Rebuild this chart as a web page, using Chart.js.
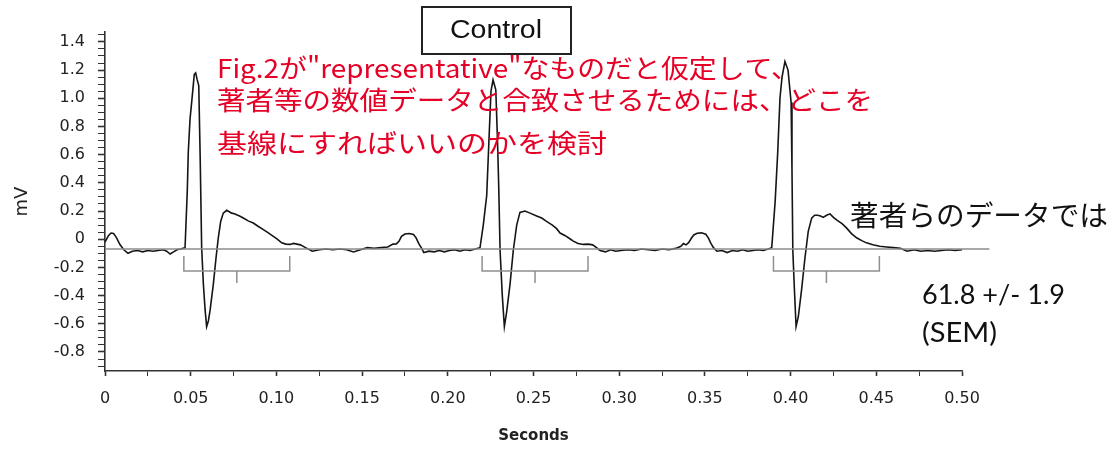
<!DOCTYPE html>
<html lang="ja">
<head>
<meta charset="UTF-8">
<title>Control</title>
<script src="https://cdn.jsdelivr.net/npm/chart.js"></script>
<style>
  html, body { margin: 0; padding: 0; background: #fff; }
  #wrap { width: 1116px; height: 449px; }
</style>
</head>
<body>
<div id="wrap"><canvas id="ecgChart" width="1116" height="449"></canvas></div>
<script>
// ECG trace (time in s, amplitude in mV), split by cycle
const seg1Time = [0, 0.002, 0.0035, 0.005, 0.0065, 0.0088, 0.011, 0.0134, 0.016, 0.019,
  0.022, 0.025, 0.028, 0.031, 0.034, 0.036, 0.038, 0.040, 0.042, 0.044,
  0.0455, 0.0467, 0.048, 0.0486, 0.0496, 0.0511, 0.0521, 0.0529, 0.0538, 0.0547,
  0.0555, 0.0564, 0.0574, 0.0584, 0.0593, 0.0603, 0.0613, 0.0632, 0.0648, 0.0661,
  0.0675, 0.069, 0.071, 0.0725, 0.0739, 0.0755, 0.0768, 0.0785, 0.0807, 0.0835,
  0.0865, 0.0895, 0.0924, 0.0953, 0.0982, 0.1005, 0.1031, 0.1055, 0.108, 0.110];
const seg1Mv = [-0.02, 0.025, 0.044, 0.04, 0.015, -0.04, -0.075, -0.10, -0.085, -0.08,
  -0.09, -0.08, -0.085, -0.08, -0.075, -0.085, -0.105, -0.09, -0.075, -0.07,
  -0.065, -0.06, 0.34, 0.62, 0.85, 1.04, 1.17, 1.18, 1.13, 1.09,
  0.6, -0.06, -0.32, -0.5, -0.62, -0.58, -0.505, -0.32, -0.13, 0.01,
  0.126, 0.185, 0.205, 0.195, 0.185, 0.18, 0.173, 0.165, 0.15, 0.13,
  0.115, 0.09, 0.068, 0.045, 0.02, 0.0, -0.026, -0.035, -0.037, -0.03];

const seg2Time = [0.112, 0.114, 0.117, 0.121, 0.125, 0.129, 0.133, 0.137, 0.141, 0.145,
  0.149, 0.153, 0.157, 0.161, 0.165, 0.168, 0.170, 0.1715, 0.173, 0.175,
  0.1775, 0.180, 0.1815, 0.183, 0.1845, 0.186, 0.189, 0.192, 0.195, 0.198,
  0.201, 0.204, 0.207, 0.210, 0.213, 0.216, 0.2188];
const seg2Mv = [-0.035, -0.04, -0.06, -0.085, -0.075, -0.07, -0.075, -0.07, -0.075, -0.09,
  -0.075, -0.06, -0.065, -0.06, -0.055, -0.035, -0.033, -0.015, 0.02, 0.037,
  0.04, 0.033, 0.01, -0.03, -0.06, -0.095, -0.085, -0.09, -0.08, -0.09,
  -0.08, -0.075, -0.085, -0.075, -0.08, -0.07, -0.06];

const seg3Time = [0.2207, 0.2227, 0.224, 0.2252, 0.2264, 0.228, 0.229, 0.2297, 0.2305, 0.2318,
  0.233, 0.2343, 0.2363, 0.2382, 0.2402, 0.2421, 0.245, 0.248, 0.2518, 0.2548,
  0.2576, 0.261, 0.2635, 0.2655, 0.2685, 0.2710, 0.2732, 0.276, 0.279, 0.282,
  0.2845, 0.2868, 0.2888];
const seg3Mv = [0.10, 0.31, 0.70, 1.05, 1.13, 1.06, 0.70, 0.38, -0.08, -0.40,
  -0.62, -0.52, -0.32, -0.08, 0.10, 0.19, 0.20, 0.185, 0.165, 0.15,
  0.126, 0.10, 0.075, 0.044, 0.025, 0.005, -0.014, -0.03, -0.037, -0.035,
  -0.04, -0.06, -0.08];

const seg4Time = [0.292, 0.295, 0.298, 0.301, 0.305, 0.309, 0.313, 0.317, 0.321, 0.325,
  0.329, 0.333, 0.336, 0.3375, 0.339, 0.3405, 0.342, 0.3435, 0.3455, 0.348,
  0.3505, 0.352, 0.3535, 0.355, 0.357, 0.360, 0.363, 0.366, 0.369, 0.372,
  0.375, 0.378, 0.381, 0.384, 0.387];
const seg4Mv = [-0.09, -0.075, -0.085, -0.08, -0.075, -0.08, -0.07, -0.075, -0.08, -0.07,
  -0.075, -0.065, -0.05, -0.03, -0.04, -0.025, 0.005, 0.03, 0.042, 0.045,
  0.035, 0.01, -0.03, -0.06, -0.085, -0.08, -0.095, -0.08, -0.085, -0.075,
  -0.085, -0.08, -0.075, -0.08, -0.07];

const seg5Time = [0.389, 0.391, 0.3925, 0.3938, 0.395, 0.3967, 0.3985, 0.4003, 0.4008, 0.4013,
  0.4022, 0.4032, 0.4045, 0.4064, 0.4084, 0.4103, 0.4123, 0.414, 0.4158, 0.4175,
  0.419, 0.421, 0.423, 0.425, 0.427, 0.430, 0.4326, 0.4355, 0.4385, 0.4415,
  0.4443, 0.448, 0.452, 0.456, 0.460, 0.464, 0.468, 0.472, 0.476, 0.480,
  0.484, 0.488, 0.492, 0.496, 0.500];
const seg5Mv = [-0.06, 0.27, 0.62, 1.0, 1.15, 1.26, 1.2, 0.97, 0.5, -0.08,
  -0.35, -0.62, -0.55, -0.36, -0.13, 0.056, 0.15, 0.17, 0.17, 0.165,
  0.155, 0.17, 0.18, 0.155, 0.135, 0.11, 0.08, 0.04, 0.01, -0.01,
  -0.026, -0.04, -0.05, -0.055, -0.06, -0.065, -0.085, -0.075, -0.085, -0.08,
  -0.085, -0.08, -0.075, -0.08, -0.075];

// isoelectric line and QT-interval brackets (mean +/- SEM in ms)
const baselineMv = -0.07;
const baselineEnd = 0.516;
const qtStarts = [0.046, 0.220, 0.390];
const qtMeanMs = 61.8;
const qtSemMs = 1.9;

// bracket shape levels (mV)
const bracketTop = -0.12, bracketLow = -0.225, bracketTick = -0.31;

const times = [].concat(seg1Time, seg2Time, seg3Time, seg4Time, seg5Time);
const volts = [].concat(seg1Mv, seg2Mv, seg3Mv, seg4Mv, seg5Mv);
const tracePoints = times.map((t, i) => ({ x: t, y: volts[i] }));

const qtWidth = qtMeanMs / 1000;
const bracketPoints = [];
qtStarts.forEach(s => {
  bracketPoints.push({ x: s, y: bracketTop }, { x: s, y: bracketLow },
    { x: s + qtWidth, y: bracketLow }, { x: s + qtWidth, y: bracketTop },
    { x: s + qtWidth, y: null },
    { x: s + qtWidth / 2, y: bracketLow }, { x: s + qtWidth / 2, y: bracketTick },
    { x: s + qtWidth / 2, y: null });
});

const redNote = [
  { text: 'Fig.2が"representative"なものだと仮定して、', y: 68, w: 582 },
  { text: '著者等の数値データと合致させるためには、どこを', y: 100, w: 656 },
  { text: '基線にすればいいのかを検討', y: 143, w: 390 }
];

function drawFitted(ctx, text, x, y, width, font, color, align) {
  ctx.save();
  ctx.font = font;
  ctx.fillStyle = color;
  ctx.textBaseline = 'middle';
  ctx.textAlign = align;
  const sx = width / ctx.measureText(text).width;
  ctx.translate(x, y);
  ctx.scale(sx, 1);
  ctx.fillText(text, 0, 0);
  ctx.restore();
}

const notes = {
  id: 'notes',
  afterDraw(chart) {
    const ctx = chart.ctx;
    ctx.save();
    // boxed title
    ctx.fillStyle = '#fff';
    ctx.fillRect(422, 7, 149, 47);
    ctx.strokeStyle = '#222';
    ctx.lineWidth = 2;
    ctx.strokeRect(422, 7, 149, 47);
    ctx.restore();
    drawFitted(ctx, 'Control', 496, 31, 92, '25px "Liberation Sans"', '#111', 'center');

    redNote.forEach(l => drawFitted(ctx, l.text, 217, l.y, l.w, '26px "Noto Sans CJK JP"', '#e60026', 'left'));

    drawFitted(ctx, '著者らのデータでは', 850, 215, 258, '28px "Noto Sans CJK JP"', '#111', 'left');
    drawFitted(ctx, qtMeanMs.toFixed(1) + ' +/- ' + qtSemMs.toFixed(1), 922, 295, 143, '27px Lato', '#111', 'left');
    drawFitted(ctx, '(SEM)', 922, 333, 75, '27px Lato', '#111', 'left');
  }
};

const isMajor = (v, step) => Math.abs(v / step - Math.round(v / step)) < 1e-6;
const tickFont = { family: 'DejaVu Sans', size: 16 };

new Chart(document.getElementById('ecgChart'), {
  type: 'line',
  data: {
    datasets: [
      {
        label: 'baseline',
        data: [{ x: 0, y: baselineMv }, { x: baselineEnd, y: baselineMv }],
        borderColor: '#8c8c8c',
        borderWidth: 1.5,
        pointRadius: 0,
        clip: false
      },
      {
        label: 'QT',
        data: bracketPoints,
        borderColor: '#8f8f8f',
        borderWidth: 1.5,
        pointRadius: 0,
        spanGaps: false
      },
      {
        label: 'ECG',
        data: tracePoints,
        borderColor: '#151515',
        borderWidth: 1.6,
        pointRadius: 0,
        tension: 0
      }
    ]
  },
  options: {
    responsive: false,
    animation: false,
    layout: { padding: { top: 32, right: 154, bottom: 0, left: 0 } },
    plugins: { legend: { display: false }, tooltip: { enabled: false } },
    scales: {
      x: {
        type: 'linear',
        min: 0,
        max: 0.5,
        border: { color: '#333', width: 1.6 },
        grid: {
          drawOnChartArea: false,
          tickLength: 5,
          tickColor: '#333',
          tickWidth: c => isMajor(c.tick.value, 0.05) ? 1.6 : 1
        },
        ticks: {
          stepSize: 0.025,
          autoSkip: false,
          maxRotation: 0,
          includeBounds: false,
          padding: 13,
          color: '#222',
          font: tickFont,
          callback: v => isMajor(v, 0.05) ? (Math.abs(v) < 1e-9 ? '0' : v.toFixed(2)) : ''
        },
        title: {
          display: true,
          text: 'Seconds',
          color: '#222',
          font: { family: 'DejaVu Sans', size: 15, weight: 'bold' },
          padding: { top: 0, bottom: 4 }
        },
        afterFit: s => { s.height = 78; }
      },
      y: {
        min: -0.935,
        max: 1.47,
        border: { color: '#333', width: 1.6 },
        grid: {
          drawOnChartArea: false,
          tickLength: 7,
          tickColor: '#333',
          tickWidth: c => isMajor(c.tick.value, 0.2) ? 1.6 : 1
        },
        ticks: {
          stepSize: 0.05,
          autoSkip: false,
          includeBounds: false,
          padding: 13,
          color: '#222',
          font: tickFont,
          callback: v => isMajor(v, 0.2) ? (Math.abs(v) < 1e-9 ? '0' : v.toFixed(1)) : ''
        },
        title: {
          display: true,
          text: 'mV',
          color: '#222',
          font: { family: 'DejaVu Sans', size: 18 },
          padding: { top: 12, bottom: 0 }
        },
        afterFit: s => { s.width = 105; }
      }
    }
  },
  plugins: [notes]
});
</script>
</body>
</html>
